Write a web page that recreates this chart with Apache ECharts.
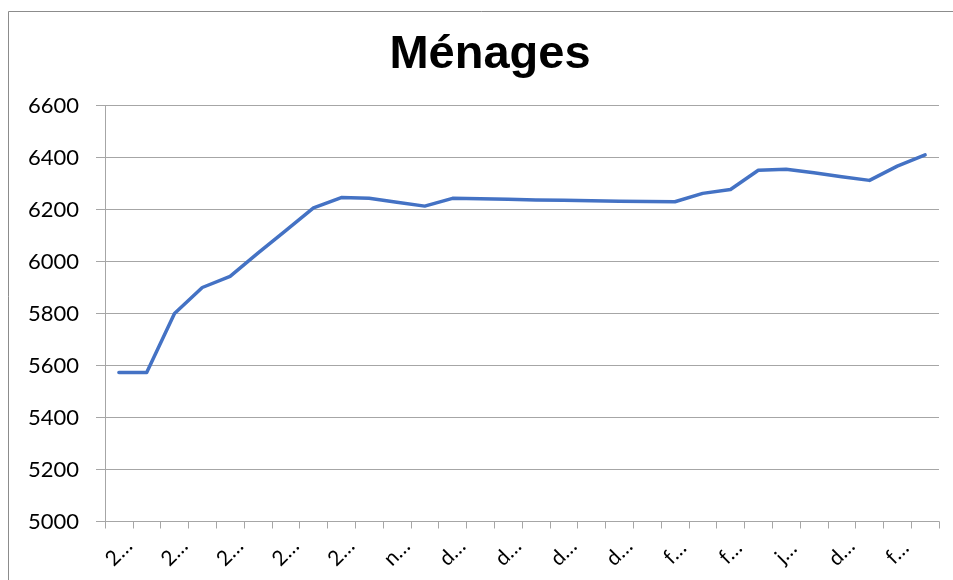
<!DOCTYPE html>
<html>
<head>
<meta charset="utf-8">
<script src="https://cdn.jsdelivr.net/npm/echarts@6/dist/echarts.min.js"></script>
<style>
html,body{margin:0;padding:0;background:#fff;}
#chart{width:953px;height:580px;}
</style>
</head>
<body>
<div id="chart"></div>
<script>
const titleText = "Ménages";
const categories = [
  "2008","2009","2010","2011","2012","2013","2014","2015","2016","2017",
  "nov. 2018","nov. 2019","déc. 2019","janv. 2020","déc. 2020","janv. 2021","déc. 2021","janv. 2022","déc. 2022","janv. 2023",
  "févr. 2023","mars 2023","févr. 2024","mars 2024","juin 2024","sept. 2024","déc. 2024","janv. 2025","févr. 2025","mars 2025"
];
const values = [
  5573, 5573, 5800, 5900, 5943, 6032, 6119, 6206, 6246, 6243,
  6228, 6213, 6243, 6241, 6239, 6237, 6236, 6234, 6232, 6231,
  6230, 6262, 6277, 6351, 6355, 6341, 6326, 6312, 6367, 6410
];
const yMin = 5000, yMax = 6600, yStep = 200;

const chart = echarts.init(document.getElementById('chart'), null, {renderer:'canvas'});
chart.setOption({
  animation: false,
  backgroundColor: '#fff',
  title: {
    text: titleText,
    left: 485, top: 27, textAlign: 'center',
    textStyle: {fontFamily: 'Liberation Sans', fontWeight: 'bold', fontSize: 47, color: '#000'}
  },
  graphic: [{
    type: 'rect', silent: true, z: -1,
    shape: {x: 8.5, y: 11.5, width: 960, height: 600},
    style: {fill: 'none', stroke: '#8c8c8c', lineWidth: 1}
  }],
  grid: {left: 105, right: 14, top: 105.5, bottom: 58.5, containLabel: false},
  xAxis: {
    type: 'category',
    data: categories,
    boundaryGap: true,
    axisLine: {lineStyle: {color: '#a6a6a6', width: 1}},
    axisTick: {show: true, length: 7, interval: 0, lineStyle: {color: '#a6a6a6'}},
    axisLabel: {
      interval: 1, rotate: 45, align: 'center', verticalAlign: 'middle', margin: 31,
      fontFamily: 'Lato', fontSize: 21, color: '#000',
      formatter: v => v.charAt(0) + '…'
    },
    splitLine: {show: false}
  },
  yAxis: {
    type: 'value',
    min: yMin, max: yMax, interval: yStep,
    axisLine: {show: true, lineStyle: {color: '#a6a6a6', width: 1}},
    axisTick: {show: true, length: 9, lineStyle: {color: '#a6a6a6'}},
    axisLabel: {margin: 26, fontFamily: 'Lato', fontSize: 22, color: '#000', formatter: v => String(v)},
    splitLine: {show: true, lineStyle: {color: '#a6a6a6', width: 1}}
  },
  series: [{
    type: 'line',
    data: values,
    symbol: 'none',
    lineStyle: {color: '#4472C4', width: 3.5, cap: 'round', join: 'round'},
    itemStyle: {color: '#4472C4'}
  }]
});
</script>
</body>
</html>
